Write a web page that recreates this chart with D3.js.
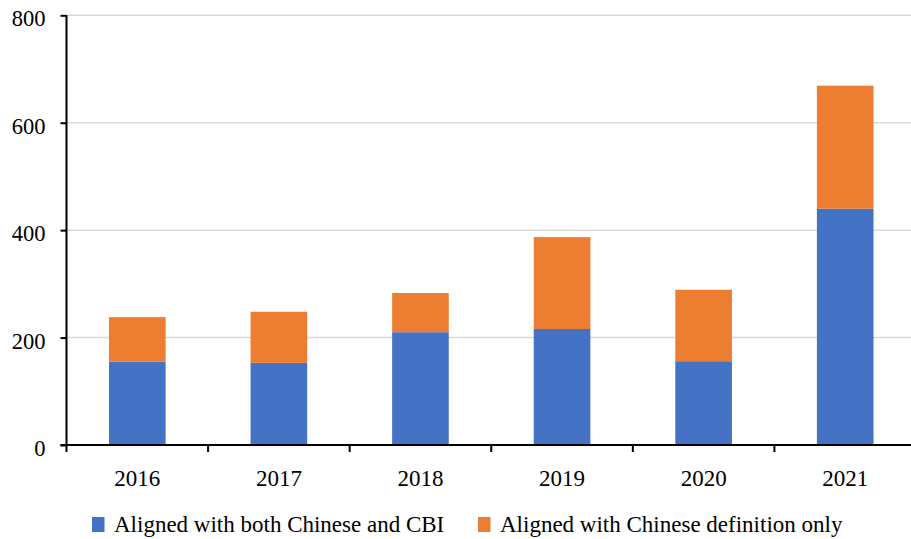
<!DOCTYPE html>
<html>
<head>
<meta charset="utf-8">
<script src="https://cdn.jsdelivr.net/npm/d3@7"></script>
<style>
  html, body { margin: 0; padding: 0; background: #fff; }
  svg { display: block; }
</style>
</head>
<body>
<svg id="chart" width="911" height="539"></svg>
<script>
const years = ["2016", "2017", "2018", "2019", "2020", "2021"];
const bothAligned = [155, 153, 210, 216, 156, 440];
const chineseOnly = [83, 95, 73, 171, 133, 229];
const seriesNames = ["Aligned with both Chinese and CBI", "Aligned with Chinese definition only"];
const seriesColors = ["#4472C4", "#ED7D31"];
const yTicks = [0, 200, 400, 600, 800];

const FONT = "'Liberation Serif', 'Times New Roman', serif";
const svg = d3.select("#chart");
const x0 = 66.5, x1 = 916, yBottom = 445, yTop = 15.3;

const x = d3.scaleBand().domain(years).range([x0, x1]).paddingInner(0.6).paddingOuter(0.3);
const y = d3.scaleLinear().domain([0, 800]).range([yBottom, yTop]);

// horizontal gridlines
svg.append("g")
  .selectAll("line")
  .data(yTicks.filter(d => d > 0))
  .join("line")
  .attr("x1", x0).attr("x2", x1)
  .attr("y1", d => y(d)).attr("y2", d => y(d))
  .attr("stroke", "#d9d9d9").attr("stroke-width", 1.5);

// stacked bars
const rows = years.map((yr, i) => ({ year: yr, both: bothAligned[i], only: chineseOnly[i] }));
const stack = d3.stack().keys(["both", "only"])(rows);
svg.append("g")
  .selectAll("g")
  .data(stack)
  .join("g")
  .attr("fill", (d, i) => seriesColors[i])
  .selectAll("rect")
  .data(d => d)
  .join("rect")
  .attr("x", d => x(d.data.year))
  .attr("width", x.bandwidth())
  .attr("y", d => y(d[1]))
  .attr("height", d => y(d[0]) - y(d[1]));

// y axis
const yAxis = d3.axisLeft(y).tickValues(yTicks).tickSize(6).tickPadding(15);
const gy = svg.append("g").attr("transform", `translate(${x0},0)`).call(yAxis);
gy.select(".domain").attr("stroke", "#000").attr("stroke-width", 2).attr("d", `M0,${yBottom + 1}V${yTop}`);
gy.selectAll(".tick line").attr("stroke", "#000").attr("stroke-width", 2);
gy.selectAll(".tick text")
  .style("font-family", FONT).style("font-size", "22.5px").attr("fill", "#000").attr("dy", "0.47em");

// x axis
const xAxis = d3.axisBottom(x).tickSize(0).tickPadding(24.5);
const gx = svg.append("g").attr("transform", `translate(0,${yBottom})`).call(xAxis);
gx.select(".domain").attr("stroke", "#000").attr("stroke-width", 2).attr("d", `M${x0 - 6},0H${x1}`);
gx.selectAll(".tick text")
  .style("font-family", FONT).style("font-size", "23px").attr("fill", "#000");
// category separators
const step = (x1 - x0) / years.length;
gx.append("g")
  .selectAll("line")
  .data(d3.range(years.length + 1))
  .join("line")
  .attr("x1", i => x0 + i * step)
  .attr("x2", i => x0 + i * step)
  .attr("y1", 0).attr("y2", 7)
  .attr("stroke", "#000").attr("stroke-width", 2);

// legend
const legendPos = [92, 478];
const legend = svg.append("g")
  .selectAll("g")
  .data(seriesNames)
  .join("g")
  .attr("transform", (d, i) => `translate(${legendPos[i]},517)`);
legend.append("rect").attr("width", 12.5).attr("height", 15).attr("fill", (d, i) => seriesColors[i]);
legend.append("text")
  .attr("x", 22).attr("y", 15)
  .style("font-family", FONT).style("font-size", "23px").attr("fill", "#000")
  .text(d => d);
</script>
</body>
</html>
